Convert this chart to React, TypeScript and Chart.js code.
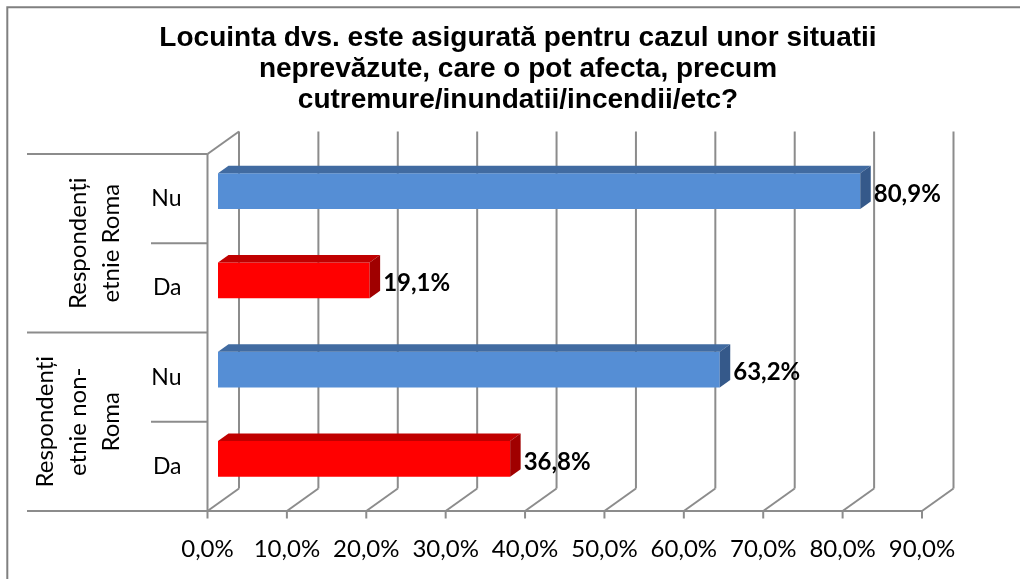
import React, { useEffect, useRef } from 'react';
import { Chart, registerables } from 'chart.js';

Chart.register(...registerables);

const titleLines = [
  'Locuinta dvs. este asigurată pentru cazul unor situatii',
  'neprevăzute, care o pot afecta, precum',
  'cutremure/inundatii/incendii/etc?',
];
const categories = ['Nu', 'Da', 'Nu', 'Da'];
const groupLabels = [
  ['Respondenți', 'etnie Roma'],
  ['Respondenți', 'etnie non-', 'Roma'],
];
const groupSizes = [2, 2];
const values = [80.9, 19.1, 63.2, 36.8];
const xMin = 0;
const xMax = 90;
const xStep = 10;

// styles
const FRONT: Record<string, string> = { Nu: '#558ED5', Da: '#FF0000' };
const TOP: Record<string, string> = { Nu: '#416BA1', Da: '#C00000' };
const SIDE: Record<string, string> = { Nu: '#35598A', Da: '#A00000' };
const WALL_DX = 31.5;
const WALL_DY = -22.5;
const BAR_DX = 10.5;
const BAR_DY = -7.5;
const GRID = '#8C8C8C';
const FONT = 'Lato, "Open Sans", sans-serif';

const fmt = (v: number) => v.toFixed(1).replace('.', ',') + '%';

const walls3d = {
  id: 'walls3d',
  beforeDraw(chart: any) {
    const ctx = chart.ctx;
    ctx.save();
    ctx.fillStyle = '#ffffff';
    ctx.fillRect(0, 0, chart.width, chart.height);
    ctx.strokeStyle = '#808080';
    ctx.lineWidth = 2;
    ctx.beginPath();
    ctx.moveTo(7.3, chart.height);
    ctx.lineTo(7.3, 7.3);
    ctx.lineTo(chart.width, 7.3);
    ctx.stroke();
    ctx.restore();
  },
  beforeDatasetsDraw(chart: any) {
    const { ctx, chartArea, scales } = chart;
    const x = scales.x;
    const top = chartArea.top;
    const bottom = chartArea.bottom;
    const left = x.getPixelForValue(xMin);
    const right = x.getPixelForValue(xMax);
    const line = (x1: number, y1: number, x2: number, y2: number) => {
      ctx.beginPath();
      ctx.moveTo(x1, y1);
      ctx.lineTo(x2, y2);
      ctx.stroke();
    };
    ctx.save();
    ctx.strokeStyle = GRID;
    ctx.lineWidth = 2;
    ctx.lineCap = 'butt';
    for (let v = xMin; v <= xMax; v += xStep) {
      const px = x.getPixelForValue(v);
      line(px + WALL_DX, top + WALL_DY, px + WALL_DX, bottom + WALL_DY);
      line(px, bottom, px + WALL_DX, bottom + WALL_DY);
      line(px, bottom, px, bottom + 7.5);
    }
    line(left, top, left, bottom);
    line(left, top, left + WALL_DX, top + WALL_DY);
    line(27, bottom, right, bottom);
    // category separators
    const band = (bottom - top) / categories.length;
    let k = 0;
    line(27, top, left, top);
    groupSizes.forEach((n) => {
      for (let i = 1; i < n; i++) line(151, top + (k + i) * band, left, top + (k + i) * band);
      k += n;
      line(27, top + k * band, left, top + k * band);
    });
    // group labels (rotated)
    ctx.fillStyle = '#000000';
    ctx.font = `24px ${FONT}`;
    ctx.textAlign = 'center';
    ctx.textBaseline = 'middle';
    k = 0;
    groupSizes.forEach((n, gi) => {
      const yc = top + (k + n / 2) * band;
      const lines = groupLabels[gi];
      lines.forEach((t, li) => {
        const xc = 111 - (lines.length - 1 - li) * 33;
        ctx.save();
        ctx.translate(xc, yc);
        ctx.rotate(-Math.PI / 2);
        ctx.fillText(t, 0, 0);
        ctx.restore();
      });
      k += n;
    });
    ctx.restore();
    ctx.save();
    ctx.translate(BAR_DX, BAR_DY);
  },
  afterDatasetsDraw(chart: any) {
    const ctx = chart.ctx;
    ctx.restore();
    const meta = chart.getDatasetMeta(0);
    ctx.save();
    meta.data.forEach((el: any, i: number) => {
      const cat = categories[i];
      const x0 = Math.min(el.base, el.x) + BAR_DX;
      const x1 = Math.max(el.base, el.x) + BAR_DX;
      const yT = el.y - el.height / 2 + BAR_DY;
      const yB = el.y + el.height / 2 + BAR_DY;
      ctx.fillStyle = TOP[cat];
      ctx.beginPath();
      ctx.moveTo(x0, yT);
      ctx.lineTo(x1, yT);
      ctx.lineTo(x1 + BAR_DX, yT + BAR_DY);
      ctx.lineTo(x0 + BAR_DX, yT + BAR_DY);
      ctx.closePath();
      ctx.fill();
      ctx.fillStyle = SIDE[cat];
      ctx.beginPath();
      ctx.moveTo(x1, yT);
      ctx.lineTo(x1 + BAR_DX, yT + BAR_DY);
      ctx.lineTo(x1 + BAR_DX, yB + BAR_DY);
      ctx.lineTo(x1, yB);
      ctx.closePath();
      ctx.fill();
      // label
      ctx.fillStyle = '#000000';
      ctx.font = `bold 24px ${FONT}`;
      ctx.textAlign = 'left';
      ctx.textBaseline = 'middle';
      ctx.fillText(fmt(values[i]), x1 + BAR_DX + 3, el.y - 4.5);
    });
    ctx.restore();
  },
};

export default function App() {
  const ref = useRef<HTMLCanvasElement>(null);
  useEffect(() => {
    document.body.style.margin = '0';
    const chart = new Chart(ref.current as HTMLCanvasElement, {
      type: 'bar',
      data: {
        labels: categories,
        datasets: [
          {
            data: values,
            backgroundColor: categories.map((c) => FRONT[c]),
            borderWidth: 0,
            barPercentage: 0.4,
            categoryPercentage: 1.0,
          },
        ],
      },
      options: {
        indexAxis: 'y',
        animation: false,
        responsive: false,
        maintainAspectRatio: false,
        devicePixelRatio: 1,
        layout: { padding: { left: 16, right: 0, top: 0, bottom: 0 } },
        plugins: {
          legend: { display: false },
          tooltip: { enabled: false },
          title: {
            display: true,
            text: titleLines,
            color: '#000000',
            font: { family: '"Liberation Sans", Arial, sans-serif', size: 28, weight: 'bold', lineHeight: 31 / 28 },
            padding: { top: 23, bottom: 38 },
          },
        },
        scales: {
          x: {
            type: 'linear',
            position: 'bottom',
            min: xMin,
            max: xMax,
            grid: { display: false },
            border: { display: false },
            ticks: {
              stepSize: xStep,
              autoSkip: false,
              maxRotation: 0,
              padding: 16,
              color: '#000000',
              font: { family: FONT, size: 24 },
              callback: (v: any) => fmt(Number(v)),
            },
            afterFit: (s: any) => {
              s.height = 68;
            },
          },
          y: {
            type: 'category',
            position: 'left',
            grid: { display: false },
            border: { display: false },
            ticks: { padding: 18, color: '#000000', font: { family: FONT, size: 23 } },
            afterFit: (s: any) => {
              s.width = 191.5;
            },
          },
          yRight: {
            type: 'category',
            position: 'right',
            display: true,
            grid: { display: false },
            border: { display: false },
            ticks: { display: false },
            afterFit: (s: any) => {
              s.width = 98;
            },
          },
        },
      },
      plugins: [walls3d],
    });
    return () => chart.destroy();
  }, []);
  return (
    <div style={{ position: 'absolute', left: 0, top: 0, width: 1020, height: 579 }}>
      <canvas ref={ref} width={1020} height={579} style={{ width: 1020, height: 579, display: 'block' }} />
    </div>
  );
}
